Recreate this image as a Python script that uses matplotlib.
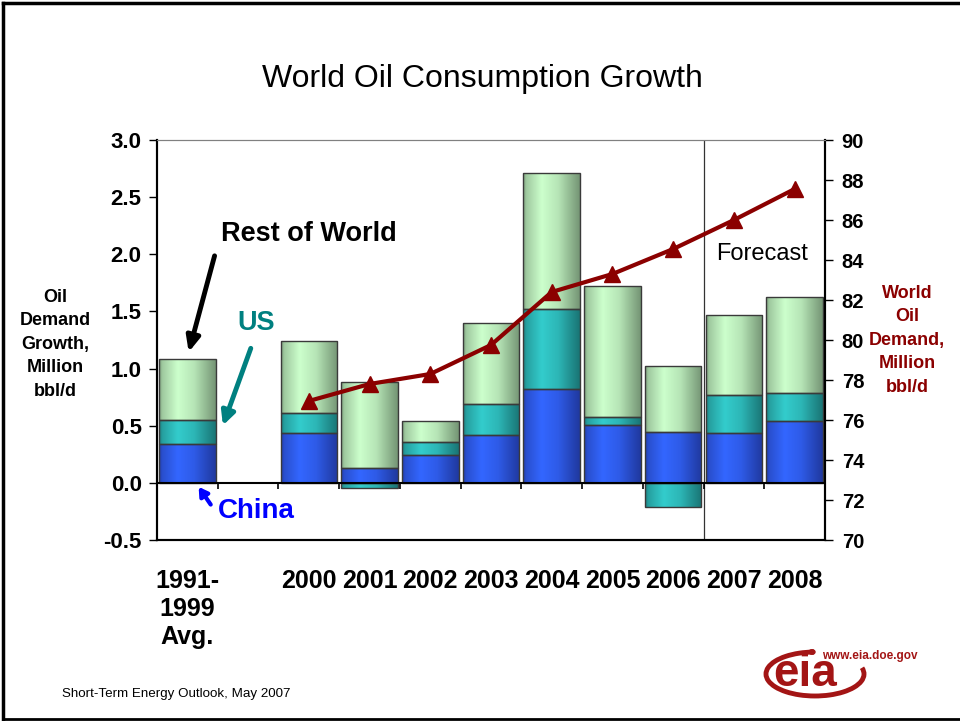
import numpy as np
import matplotlib
matplotlib.use('Agg')
import matplotlib.pyplot as plt
from matplotlib.colors import LinearSegmentedColormap
from matplotlib.patches import Arc, Circle
from matplotlib.lines import Line2D

plt.rcParams['font.family'] = ['Liberation Sans', 'DejaVu Sans']

labels = ['1991-\n1999\nAvg.', '', '2000', '2001', '2002', '2003', '2004',
          '2005', '2006', '2007', '2008']
china = [0.34, 0, 0.435, 0.128, 0.245, 0.42, 0.82, 0.507, 0.449, 0.435, 0.545]
us = [0.21, 0, 0.18, -0.046, 0.111, 0.27, 0.70, 0.068, -0.207, 0.335, 0.24]
rest = [0.53, 0, 0.63, 0.752, 0.189, 0.71, 1.195, 1.151, 0.575, 0.697, 0.84]
demand = [np.nan, np.nan, 76.95, 77.8, 78.3, 79.75, 82.4, 83.3, 84.55, 86.0, 87.55]

# colours (dark edge, light centre)
c_china = ('#1b2d86', '#3366ff')
c_us = ('#135e5e', '#33cccc')
c_rest = ('#5e7a5e', '#ccffcc')
red = '#8b0000'

x = np.arange(len(labels))
keep = np.array([l != '' for l in labels])
china = np.array(china)
us = np.array(us)
rest = np.array(rest)
us_bottom = np.where(us > 0, china, 0)
rest_bottom = china + np.clip(us, 0, None)

fig = plt.figure(figsize=(9.6, 7.21), dpi=100)
ax = fig.add_axes([157/960, 1-540/721, 668/960, 400/721])
ax2 = ax.twinx()

xs = np.linspace(0, 1, 200)
profile = np.interp(xs, [0, 0.06, 0.33, 0.62, 1.0], [0.3, 0.6, 1.0, 0.8, 0.2])


def grad_bars(vals, bottoms, cols):
    bars = ax.bar(x[keep], vals[keep], bottom=bottoms[keep], width=0.93,
                  color='none', edgecolor='#3a3a3a', lw=1.0, zorder=3)
    cmap = LinearSegmentedColormap.from_list('g', list(cols))
    for b in bars:
        x0, y0 = b.get_x(), b.get_y()
        w, h = b.get_width(), b.get_height()
        im = ax.imshow(profile[np.newaxis, :], cmap=cmap, vmin=0, vmax=1,
                       aspect='auto', interpolation='bilinear',
                       extent=(x0, x0 + w, y0, y0 + h), zorder=2)
        im.set_clip_path(b)


grad_bars(china, np.zeros_like(china), c_china)
grad_bars(us, us_bottom, c_us)
grad_bars(rest, rest_bottom, c_rest)

ax.set_xlim(-0.5, len(labels) - 0.5)
ax.set_ylim(-0.5, 3.0)
ax.axhline(0, color='black', lw=1.5, zorder=4)
ax.vlines(np.arange(-0.5, len(labels)), -0.05, 0, color='black', lw=1.2, zorder=4)
ax.axvline(labels.index('2007') - 0.5, color='#333333', lw=0.9, zorder=1)

ax.set_yticks(np.arange(-0.5, 3.01, 0.5))
ax.set_yticklabels(['%.1f' % v for v in np.arange(-0.5, 3.01, 0.5)])
ax.set_xticks(x)
ax.set_xticklabels(labels, fontsize=18, fontweight='bold', linespacing=1.2)
ax.tick_params(axis='x', length=0, pad=21)
ax.tick_params(axis='y', labelsize=16, length=6, width=1, direction='out', pad=5)
for lab in ax.get_yticklabels():
    lab.set_fontweight('bold')

ax2.plot(x, demand, color=red, lw=3, marker='^', markersize=12,
         markerfacecolor=red, markeredgecolor=red, zorder=5)
ax2.set_ylim(70, 90)
ax2.set_yticks(np.arange(70, 91, 2))
ax2.tick_params(axis='y', labelsize=14.5, length=6, width=1, direction='out', pad=6)
for lab in ax2.get_yticklabels():
    lab.set_fontweight('bold')

for a in (ax, ax2):
    a.spines['top'].set_color('#808080')
    a.spines['left'].set_linewidth(1.5)
    a.spines['right'].set_linewidth(1.5)
    a.spines['bottom'].set_linewidth(1.5)

# annotations
ax.annotate('', xy=(0.01, 1.12), xytext=(0.46, 2.01),
            arrowprops=dict(arrowstyle='-|>,head_width=0.4,head_length=0.9',
                            color='black', lw=3.5))
ax.text(2.0, 2.18, 'Rest of World', fontsize=19.5, fontweight='bold',
        ha='center', va='center')
ax.annotate('', xy=(0.57, 0.48), xytext=(1.06, 1.2),
            arrowprops=dict(arrowstyle='-|>,head_width=0.4,head_length=0.8',
                            color='#008080', lw=3.5))
ax.text(1.13, 1.4, 'US', fontsize=19.5, fontweight='bold', color='#008080',
        ha='center', va='center')
ax.annotate('', xy=(0.16, -0.015), xytext=(0.41, -0.21),
            arrowprops=dict(arrowstyle='-|>,head_width=0.3,head_length=0.5',
                            color='#0000ff', lw=3))
ax.text(1.13, -0.245, 'China', fontsize=20, fontweight='bold', color='#0000ff',
        ha='center', va='center')
ax.text(9.46, 2.0, 'Forecast', fontsize=17, ha='center', va='center')

fig.text(482/960, 1-79/721, 'World Oil Consumption Growth', fontsize=23,
         ha='center', va='center')
fig.text(55/960, 1-344/721, 'Oil\nDemand\nGrowth,\nMillion\nbbl/d', fontsize=13,
         fontweight='bold', ha='center', va='center', linespacing=1.5)
fig.text(907/960, 1-340/721, 'World\nOil\nDemand,\nMillion\nbbl/d', fontsize=13,
         fontweight='bold', ha='center', va='center', linespacing=1.5, color=red)
fig.text(62/960, 1-694/721, 'Short-Term Energy Outlook, May 2007', fontsize=9.6,
         ha='left', va='center')

# eia logo
logo_red = '#a31515'
fig.text(870/960, 1-656/721, 'www.eia.doe.gov', fontsize=8.5, fontweight='bold',
         color=logo_red, ha='center', va='center')
fig.text(805/960, 1-686/721, 'eia', fontsize=33, fontweight='bold',
         color=logo_red, ha='center', va='baseline')
fig.add_artist(Arc((815/960, 1-674/721), 98/960, 44/721, theta1=92, theta2=370,
                   transform=fig.transFigure, color=logo_red, lw=3.5))
fig.add_artist(Circle((812/960, 1-652/721), 3/960, transform=fig.transFigure,
                      color=logo_red))

# slide border
fig.add_artist(Line2D([3/960, 1], [1-3/721, 1-3/721], transform=fig.transFigure,
                      color='black', lw=2.5))
fig.add_artist(Line2D([3/960, 3/960], [1-3/721, 1-719/721], transform=fig.transFigure,
                      color='black', lw=2.5))
fig.add_artist(Line2D([3/960, 1], [1-719/721, 1-719/721], transform=fig.transFigure,
                      color='black', lw=2))

fig.savefig('out.png', dpi=100)
